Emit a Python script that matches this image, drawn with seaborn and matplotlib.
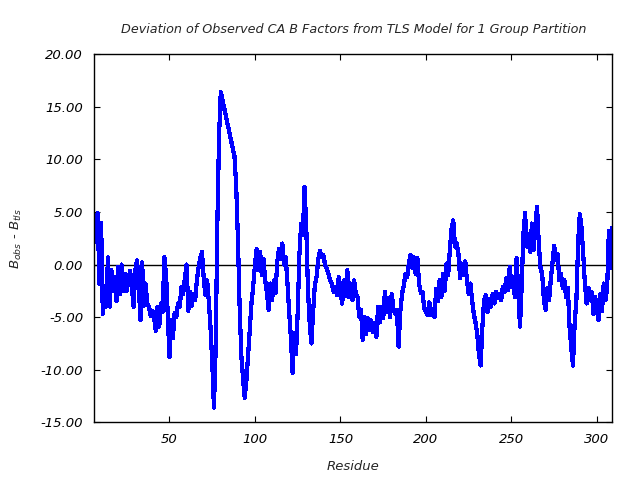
import matplotlib
matplotlib.use("Agg")
import matplotlib.pyplot as plt
import seaborn as sns
import pandas as pd

residues = list(range(6, 81)) + list(range(88, 310))

values = [
    # 6-20
    2.1, 3.5, 4.9, -1.8, 4.0, -4.7, -2.0, -4.0, 0.7, -4.0, -0.5, -2.5, -1.2, -3.5, -0.2,
    # 21-35
    -2.8, 0.0, -2.5, -0.9, -2.5, -1.5, -0.6, -2.2, -4.0, -0.6, 0.4, -1.8, -5.3, 0.2, -3.9,
    # 36-50
    -1.8, -3.7, -4.0, -4.9, -4.4, -5.0, -6.3, -4.0, -5.9, -3.7, -4.5, 0.7, -1.0, -5.0, -8.8,
    # 51-65
    -5.3, -7.0, -4.6, -5.0, -3.7, -4.0, -2.1, -2.8, -1.3, 0.0, -4.4, -2.6, -3.9, -2.8, -3.4,
    # 66-80
    -1.5, -0.3, 0.6, 1.2, -1.3, -2.9, -1.5, -3.5, -6.0, -9.3, -13.6, -8.0, 4.0, 12.3, 16.4,
    # 88-102
    10.3, 7.5, 2.5, -3.9, -8.6, -10.8, -12.7, -11.0, -8.5, -6.0, -3.6, -2.0, 0.0, 1.5, -0.5,
    # 103-117
    1.2, -1.0, 0.5, -1.5, -2.7, -4.3, -1.8, -3.4, -1.5, -2.7, 0.2, 1.5, 0.5, 2.0, 0.0,
    # 118-132
    0.7, -1.8, -4.5, -6.9, -10.3, -6.5, -8.5, -4.5, 1.0, 3.9, 2.8, 7.4, 3.5, -2.4, -5.6,
    # 133-147
    -7.5, -4.5, -2.0, -1.2, 0.5, 1.3, 0.7, 0.9, 0.0, -0.4, -0.9, -1.5, -1.8, -2.6, -2.1,
    # 148-162
    -2.9, -1.2, -2.4, -3.7, -1.5, -3.0, -0.5, -3.1, -1.8, -3.4, -1.5, -2.8, -3.1, -5.0, -4.3,
    # 163-177
    -7.2, -5.0, -6.6, -5.1, -6.2, -5.3, -6.4, -5.6, -6.9, -4.0, -5.5, -4.0, -5.1, -2.6, -4.5,
    # 178-192
    -3.2, -5.0, -2.8, -4.2, -4.7, -4.3, -7.8, -4.5, -2.8, -2.0, -0.9, -1.2, 0.1, 0.9, -0.3,
    # 193-207
    0.7, -0.9, 0.6, -1.8, -2.7, -2.6, -4.2, -4.5, -4.8, -3.6, -4.8, -4.2, -5.0, -2.3, -3.5,
    # 208-222
    -1.5, -3.1, -0.9, -2.5, 0.1, -1.0, 1.4, 3.4, 4.2, 1.7, 2.0, 1.0, -1.3, 0.1, -1.0,
    # 223-237
    0.3, -1.5, -2.8, -1.8, -3.4, -4.7, -5.5, -6.6, -8.5, -9.6, -6.0, -3.4, -2.9, -4.5, -3.3,
    # 238-252
    -4.0, -2.8, -3.7, -2.6, -3.2, -2.8, -3.4, -2.1, -2.6, -1.3, -2.4, -0.2, -2.1, -1.2, -3.1,
    # 253-267
    0.6, -2.4, -5.9, -2.0, 2.9, 4.9, 1.7, 2.9, 1.2, 3.9, 1.4, 3.8, 5.5, 2.0, -0.3,
    # 268-282
    -0.9, -3.4, -4.3, -2.2, -3.4, -1.5, 0.1, 1.8, 0.4, 1.0, -1.5, -0.9, -2.2, -1.5, -3.1,
    # 283-297
    -2.2, -5.9, -7.9, -9.6, -5.5, -3.4, 2.0, 4.8, 3.5, 1.0, -1.9, -3.7, -2.2, -3.4, -2.6,
    # 298-309
    -4.7, -3.1, -4.1, -5.3, -2.8, -4.4, -1.8, -3.4, -2.2, 3.2, -0.3, 3.5,
]

x_ticks = [50, 100, 150, 200, 250, 300]
y_ticks = [-15, -10, -5, 0, 5, 10, 15, 20]

title = "Deviation of Observed CA B Factors from TLS Model for 1 Group Partition"
x_label = "Residue"
y_label = r"$B_{obs}$ - $B_{tls}$"

df = pd.DataFrame({"Residue": residues, "dev": values})

sns.set_style("white")
plt.rcParams["font.family"] = ["DejaVu Sans"]
plt.rcParams["axes.unicode_minus"] = False
plt.rcParams["mathtext.fontset"] = "dejavusans"
plt.rcParams["mathtext.default"] = "it"

fig = plt.figure(figsize=(6.4, 4.8), dpi=100)
ax = fig.add_axes([0.1473, 0.1202, 0.8094, 0.7667])

ax.axhline(0, color="black", linewidth=1.0, zorder=1)
sns.lineplot(data=df, x="Residue", y="dev", ax=ax, color="#0000ff",
             linewidth=2.3, zorder=2, estimator=None, sort=False,
             antialiased=False)

ax.set_xlim(min(residues), max(residues))
ax.set_ylim(-15, 20)
ax.set_xticks(x_ticks)
ax.set_yticks(y_ticks)
ax.set_xticklabels([str(t) for t in x_ticks], fontstyle="italic", fontsize=9.5)
ax.set_yticklabels(["%.2f" % t for t in y_ticks], fontstyle="italic", fontsize=9.5)
ax.tick_params(direction="in", length=4.5, width=0.8, top=True, right=True,
               bottom=True, left=True, colors="black", pad=8)
for s in ax.spines.values():
    s.set_visible(True)
    s.set_color("black")
    s.set_linewidth(1.0)

ax.set_xlabel(x_label, fontstyle="italic", fontsize=9.5, labelpad=10)
ax.set_ylabel(y_label, fontsize=9.5, labelpad=12)
ax.set_title(title, fontstyle="italic", fontsize=9.2, pad=15)

fig.savefig("out.png", dpi=100)
